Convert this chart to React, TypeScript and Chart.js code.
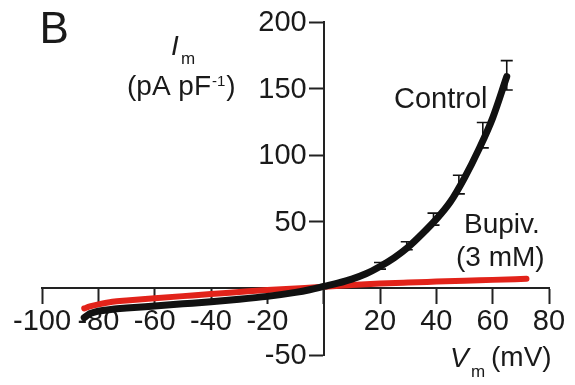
import { useEffect, useRef } from "react";
import { Chart, registerables } from "chart.js";

Chart.register(...registerables);

// Whole-cell current density vs membrane potential (ramp protocol)
const controlV = [-85, -83, -80, -75, -70, -60, -50, -40, -30, -20, -10, -5, 0, 5, 10, 15, 20, 25, 30, 35, 40, 45, 50, 55, 60, 65];
const controlI = [-22, -19, -17, -15.7, -14.8, -13.2, -11.6, -10, -8.2, -6, -3, -1, 1.5, 4, 7, 11, 16.5, 23, 31, 41, 52, 65, 83, 104, 128, 159];

const bupivV = [-85, -83, -80, -75, -70, -60, -50, -40, -30, -20, -10, 0, 10, 20, 30, 40, 50, 60, 72];
const bupivI = [-15, -13.5, -12, -10, -9, -7.4, -5.8, -4.2, -2.7, -1.2, 0, 1.2, 2.5, 3.6, 4.4, 5.1, 5.8, 6.4, 7.2];

// Mean ± SEM sampled along the control trace
const errV = [20, 29.5, 39, 48, 56.5, 65];
const errMean = [17, 32, 52, 78, 115, 160];
const errSem = [2.5, 3, 4.5, 7, 9.5, 11];

const xTicks = [-100, -80, -60, -40, -20, 0, 20, 40, 60, 80];
const yTicks = [-50, 0, 50, 100, 150, 200];

const FONT = "'Liberation Sans', Arial, Helvetica, sans-serif";
const INK = "#1a1a1a";

const errorBars = {
  id: "errorBars",
  afterDatasetsDraw(chart: any) {
    const { ctx, scales } = chart;
    const xs = scales.x;
    const ys = scales.y;
    ctx.save();
    ctx.strokeStyle = "#111";
    ctx.lineWidth = 1.6;
    errV.forEach((v, i) => {
      const px = xs.getPixelForValue(v);
      const top = ys.getPixelForValue(errMean[i] + errSem[i]);
      const bot = ys.getPixelForValue(errMean[i] - errSem[i]);
      ctx.beginPath();
      ctx.moveTo(px, top);
      ctx.lineTo(px, bot);
      ctx.moveTo(px - 6, top);
      ctx.lineTo(px + 6, top);
      ctx.moveTo(px - 6, bot);
      ctx.lineTo(px + 6, bot);
      ctx.stroke();
    });
    ctx.restore();
  },
};

// y tick labels sit to the left of the tick marks of the crossing y axis
const yTickLabels = {
  id: "yTickLabels",
  afterDraw(chart: any) {
    const { ctx, scales } = chart;
    const ys = scales.y;
    const axisX = scales.x.getPixelForValue(0);
    ctx.save();
    ctx.fillStyle = INK;
    ctx.font = `29px ${FONT}`;
    ctx.textAlign = "right";
    ctx.textBaseline = "middle";
    yTicks.forEach((t) => {
      if (t === 0) return;
      ctx.fillText(String(t), axisX - 17, ys.getPixelForValue(t) + 1);
    });
    ctx.restore();
  },
};

const annotations = {
  id: "annotations",
  afterDraw(chart: any) {
    const { ctx } = chart;
    ctx.save();
    ctx.fillStyle = INK;
    ctx.textBaseline = "alphabetic";
    ctx.textAlign = "left";

    ctx.font = `44px ${FONT}`;
    ctx.fillText("B", 39.5, 43);

    // y-axis title: I_m (pA pF^-1)
    ctx.font = `italic 28px ${FONT}`;
    ctx.fillText("I", 171, 55);
    ctx.font = `17px ${FONT}`;
    ctx.fillText("m", 181, 64);
    ctx.font = `28px ${FONT}`;
    ctx.fillText("(pA pF", 127, 95);
    const w = ctx.measureText("(pA pF").width;
    ctx.font = `15px ${FONT}`;
    ctx.fillText("-1", 127 + w + 1, 86);
    const w2 = ctx.measureText("-1").width;
    ctx.font = `28px ${FONT}`;
    ctx.fillText(")", 127 + w + 1 + w2 + 1, 95);

    // series labels
    ctx.font = `29px ${FONT}`;
    ctx.fillText("Control", 394, 107.5);
    ctx.font = `28px ${FONT}`;
    ctx.fillText("Bupiv.", 464, 233);
    ctx.fillText("(3 mM)", 456, 266);

    // x-axis title: V_m (mV)
    ctx.font = `italic 28px ${FONT}`;
    ctx.fillText("V", 450, 367);
    ctx.font = `17px ${FONT}`;
    ctx.fillText("m", 471, 377);
    ctx.font = `28px ${FONT}`;
    ctx.fillText("(mV)", 491, 366);
    ctx.restore();
  },
};

export default function App() {
  const canvasRef = useRef<HTMLCanvasElement | null>(null);

  useEffect(() => {
    const canvas = canvasRef.current;
    if (!canvas) return;
    const chart = new Chart(canvas, {
      type: "line",
      data: {
        datasets: [
          {
            label: "Control",
            data: controlV.map((v, i) => ({ x: v, y: controlI[i] })),
            borderColor: "#111111",
            borderWidth: 7,
            pointRadius: 0,
            cubicInterpolationMode: "monotone",
            borderCapStyle: "round",
            borderJoinStyle: "round",
            fill: false,
          },
          {
            label: "Bupiv. (3 mM)",
            data: bupivV.map((v, i) => ({ x: v, y: bupivI[i] })),
            borderColor: "#e2231a",
            borderWidth: 6,
            pointRadius: 0,
            cubicInterpolationMode: "monotone",
            borderCapStyle: "round",
            borderJoinStyle: "round",
            fill: false,
          },
        ],
      },
      options: {
        responsive: false,
        animation: false,
        layout: { padding: { left: 42, right: 26, top: 22, bottom: 30 } },
        plugins: {
          legend: { display: false },
          tooltip: { enabled: false },
        },
        scales: {
          x: {
            type: "linear",
            position: { y: 0 },
            min: xTicks[0],
            max: xTicks[xTicks.length - 1],
            afterBuildTicks: (scale: any) => {
              scale.ticks = xTicks.map((value) => ({ value }));
            },
            grid: {
              drawOnChartArea: false,
              drawTicks: true,
              tickLength: 15,
              tickWidth: 2,
              tickColor: "#222",
            },
            border: { display: true, color: "#222", width: 2 },
            ticks: {
              font: { family: FONT, size: 29 },
              color: INK,
              padding: 1,
              maxRotation: 0,
              autoSkip: false,
              callback: (v: any) => (Number(v) === 0 ? "" : String(v)),
            },
          },
          y: {
            type: "linear",
            position: { x: 0 },
            min: yTicks[0],
            max: yTicks[yTicks.length - 1],
            afterBuildTicks: (scale: any) => {
              scale.ticks = yTicks.map((value) => ({ value }));
            },
            grid: {
              drawOnChartArea: false,
              drawTicks: true,
              tickLength: 14,
              tickWidth: 2,
              tickColor: "#222",
            },
            border: { display: true, color: "#222", width: 2 },
            ticks: {
              display: false,
              font: { family: FONT, size: 29 },
              autoSkip: false,
            },
          },
        },
      },
      plugins: [errorBars, yTickLabels, annotations],
    });
    return () => chart.destroy();
  }, []);

  return (
    <div
      style={{
        position: "fixed",
        left: 0,
        top: 0,
        width: 575,
        height: 385,
        background: "#fff",
      }}
    >
      <canvas ref={canvasRef} width={575} height={385} />
    </div>
  );
}
